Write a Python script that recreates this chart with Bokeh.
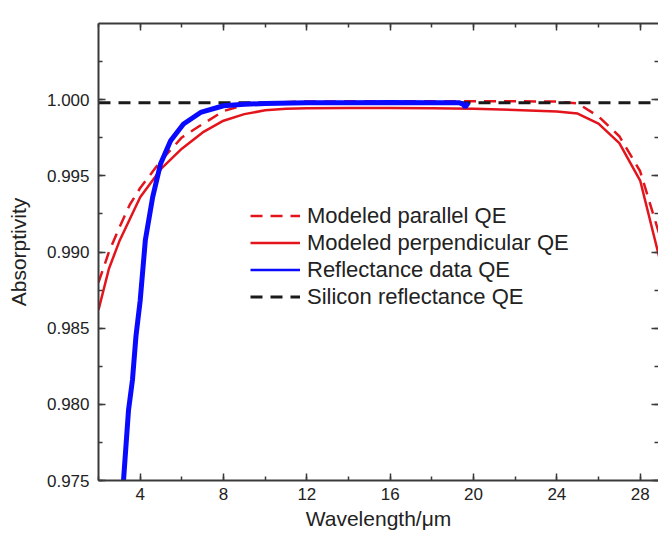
from bokeh.plotting import figure
from bokeh.models import (Range1d, LinearAxis, SingleIntervalTicker, PrintfTickFormatter,
                          CustomJSTickFormatter, Legend, LegendItem)
from bokeh.embed import file_html
from bokeh.resources import INLINE

# ---- data ----
par_x = [2.0, 2.5, 3.0, 3.5, 4.0, 5.0, 6.0, 7.0, 8.0, 9.0, 10.0, 12.0, 16.0, 20.0, 24.0, 25.0, 26.0, 27.0, 28.0, 29.0]
par_y = [0.9880, 0.9900, 0.9916, 0.9931, 0.9942, 0.9960, 0.99752, 0.99840, 0.99925, 0.99965, 0.99980, 0.99988,
         0.99990, 0.99990, 0.99988, 0.99975, 0.99890, 0.99760, 0.99530, 0.99080]

perp_x = [2.0, 2.5, 3.0, 4.0, 5.0, 6.0, 7.0, 8.0, 9.0, 10.0, 11.0, 12.0, 14.0, 16.0, 18.0, 20.0, 22.0, 24.0, 25.0, 26.0, 27.0, 28.0, 29.0]
perp_y = [0.9862, 0.9889, 0.9907, 0.9936, 0.99545, 0.99678, 0.99785, 0.99862, 0.99905, 0.99930, 0.99940, 0.99943,
          0.99945, 0.99945, 0.99943, 0.99940, 0.99932, 0.99922, 0.99909, 0.99843, 0.99715, 0.99469, 0.98920]

refl_x = [3.1, 3.2, 3.44, 3.63, 3.8, 4.0, 4.25, 4.6, 4.98, 5.46, 6.08, 6.9, 8.0, 9.0, 10.0, 12.0, 14.0, 16.0, 18.0, 19.3, 19.5, 19.6, 19.75]
refl_y = [0.9732, 0.9750, 0.9796, 0.9816, 0.9845, 0.9868, 0.9908, 0.9936, 0.9958, 0.9973, 0.9984, 0.99916, 0.99960,
          0.99970, 0.99975, 0.99980, 0.99980, 0.99981, 0.99980, 0.99980, 0.99970, 0.99952, 0.99978]

si_x = [2.0, 29.0]
si_y = [0.9998, 0.9998]

x_start, x_end = 2.0, 28.88
y_start, y_end = 0.975, 1.005

FONT = "Liberation Sans"
TXT = "#222222"
AX = "#3a3a3a"
RED = "#e3141c"
BLUE = "#0a0aff"

p = figure(width=658, height=536, output_backend="svg", toolbar_location=None,
           x_range=Range1d(x_start, x_end), y_range=Range1d(y_start, y_end),
           min_border_left=98, min_border_right=0, min_border_top=23, min_border_bottom=56,
           x_axis_location=None, y_axis_location=None)
p.outline_line_color = None
p.xgrid.visible = False
p.ygrid.visible = False
p.background_fill_color = "white"
p.border_fill_color = "white"

def style(ax, labels=True):
    ax.axis_line_color = AX
    ax.axis_line_width = 2
    ax.major_tick_line_color = AX
    ax.minor_tick_line_color = AX
    ax.major_tick_line_width = 1.5
    ax.minor_tick_line_width = 1.5
    ax.major_tick_in = 7
    ax.major_tick_out = 0
    ax.minor_tick_in = 4
    ax.minor_tick_out = 0
    ax.major_label_text_font = FONT
    ax.major_label_text_color = TXT
    ax.major_label_text_font_size = "17px"
    ax.axis_label_text_font = FONT
    ax.axis_label_text_color = TXT
    ax.axis_label_text_font_size = "21px"
    ax.axis_label_text_font_style = "normal"
    if not labels:
        ax.formatter = CustomJSTickFormatter(code="return ''")
        ax.major_label_standoff = 0

xt = lambda: SingleIntervalTicker(interval=4, num_minor_ticks=2)
yt = lambda: SingleIntervalTicker(interval=0.005, num_minor_ticks=2)

xb = LinearAxis(ticker=xt(), axis_label="Wavelength/μm")
style(xb)
xb.major_label_standoff = 7
xb.axis_label_standoff = 4
p.add_layout(xb, "below")

xa = LinearAxis(ticker=xt())
style(xa, labels=False)
p.add_layout(xa, "above")

yl = LinearAxis(ticker=yt(), axis_label="Absorptivity", formatter=PrintfTickFormatter(format="%.3f"))
style(yl)
yl.major_label_standoff = 9
yl.axis_label_standoff = 14
p.add_layout(yl, "left")

yr = LinearAxis(ticker=yt())
style(yr, labels=False)
yr.axis_line_color = None
p.add_layout(yr, "right")

r_par = p.line(par_x, par_y, line_color=RED, line_width=2.5, line_dash="12 8")
r_perp = p.line(perp_x, perp_y, line_color=RED, line_width=2.5)
r_si = p.line(si_x, si_y, line_color="#1a1a1a", line_width=3, line_dash="12 8")
p.line(refl_x, refl_y, line_color=BLUE, line_width=5)
r_refl = p.line(refl_x, refl_y, line_color=BLUE, line_width=2.5)

legend = Legend(items=[
    LegendItem(label="Modeled parallel QE", renderers=[r_par]),
    LegendItem(label="Modeled perpendicular QE", renderers=[r_perp]),
    LegendItem(label="Reflectance data QE", renderers=[r_refl]),
    LegendItem(label="Silicon reflectance QE", renderers=[r_si]),
], location=(152, 170))
legend.padding = 0
legend.margin = 0
legend.spacing = 0
legend.glyph_width = 50
legend.glyph_height = 27
legend.label_height = 27
legend.label_standoff = 7
legend.label_text_font = FONT
legend.label_text_font_size = "22px"
legend.label_text_color = TXT
legend.border_line_alpha = 0
legend.background_fill_alpha = 0
p.add_layout(legend)

open("out.html", "w").write(file_html(p, INLINE))
